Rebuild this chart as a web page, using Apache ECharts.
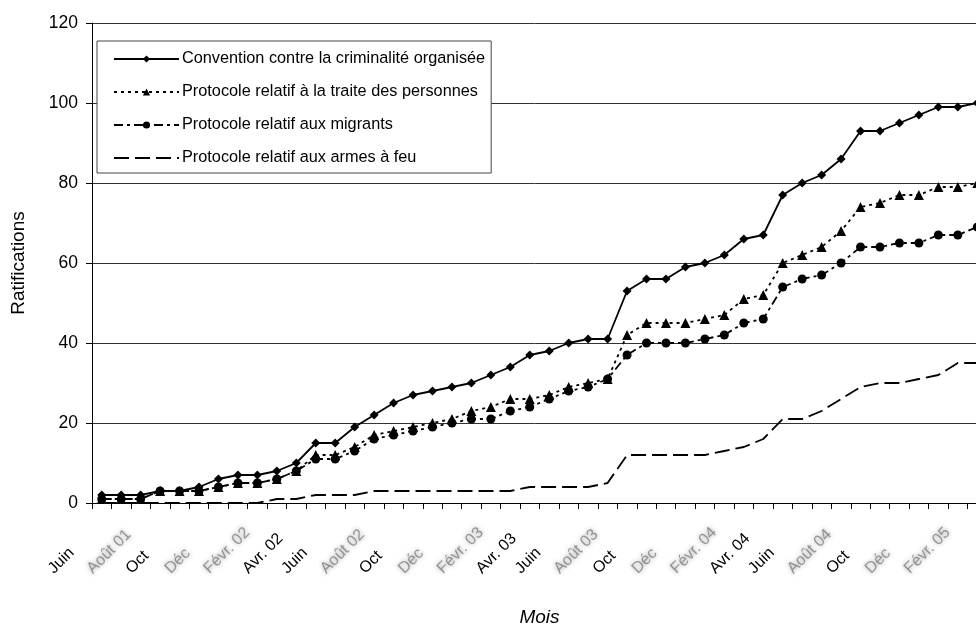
<!DOCTYPE html>
<html>
<head>
<meta charset="utf-8">
<script src="https://cdn.jsdelivr.net/npm/echarts@6/dist/echarts.min.js"></script>
<style>
  html, body { margin: 0; padding: 0; background: #fff; }
  #chart { width: 976px; height: 628px; }
</style>
</head>
<body>
<div id="chart"></div>
<script>
// Monthly categories, June 2001 to March 2005
const months = [
  'Juin', 'Juil.', 'Août 01', 'Sept.', 'Oct', 'Nov.', 'Déc', 'Janv. 02',
  'Févr. 02', 'Mars 02', 'Avr. 02', 'Mai', 'Juin', 'Juil.', 'Août 02', 'Sept.',
  'Oct', 'Nov.', 'Déc', 'Janv. 03', 'Févr. 03', 'Mars 03', 'Avr. 03', 'Mai',
  'Juin', 'Juil.', 'Août 03', 'Sept.', 'Oct', 'Nov.', 'Déc', 'Janv. 04',
  'Févr. 04', 'Mars 04', 'Avr. 04', 'Mai', 'Juin', 'Juil.', 'Août 04', 'Sept.',
  'Oct', 'Nov.', 'Déc', 'Janv. 05', 'Févr. 05', 'Mars 05'
];

// Cumulative ratifications per instrument
const convention = [2, 2, 2, 3, 3, 4, 6, 7, 7, 8, 10, 15, 15, 19, 22, 25, 27, 28, 29, 30, 32, 34, 37, 38, 40, 41, 41, 53, 56, 56, 59, 60, 62, 66, 67, 77, 80, 82, 86, 93, 93, 95, 97, 99, 99, 100];
const traite     = [1, 1, 1, 3, 3, 3, 4, 5, 5, 6, 8, 12, 12, 14, 17, 18, 19, 20, 21, 23, 24, 26, 26, 27, 29, 30, 31, 42, 45, 45, 45, 46, 47, 51, 52, 60, 62, 64, 68, 74, 75, 77, 77, 79, 79, 80];
const migrants   = [1, 1, 1, 3, 3, 3, 4, 5, 5, 6, 8, 11, 11, 13, 16, 17, 18, 19, 20, 21, 21, 23, 24, 26, 28, 29, 31, 37, 40, 40, 40, 41, 42, 45, 46, 54, 56, 57, 60, 64, 64, 65, 65, 67, 67, 69];
const armes      = [0, 0, 0, 0, 0, 0, 0, 0, 0, 1, 1, 2, 2, 2, 3, 3, 3, 3, 3, 3, 3, 3, 4, 4, 4, 4, 5, 12, 12, 12, 12, 12, 13, 14, 16, 21, 21, 23, 26, 29, 30, 30, 31, 32, 35, 35];

const seriesNames = [
  'Convention contre la criminalité organisée',
  'Protocole relatif à la traite des personnes',
  'Protocole relatif aux migrants',
  'Protocole relatif aux armes à feu'
];

const yTicks = { min: 0, max: 120, step: 20 };

const FONT = '"Liberation Sans", Arial, sans-serif';
const softLabel = /^(Août|Déc|Févr)/;

const chart = echarts.init(document.getElementById('chart'), null, { renderer: 'canvas' });

chart.setOption({
  backgroundColor: '#fff',
  animation: false,
  textStyle: { fontFamily: FONT, color: '#000' },
  grid: { left: 92, top: 23, right: -11, bottom: 125, outerBoundsMode: 'none', containLabel: false },
  legend: {
    orient: 'vertical',
    left: 97,
    top: 41,
    padding: [10, 6, 7, 16],
    itemGap: 17,
    itemWidth: 65,
    itemHeight: 9,
    backgroundColor: '#fff',
    borderColor: '#444',
    borderWidth: 1,
    borderRadius: 0,
    textStyle: { fontFamily: FONT, fontSize: 16.3, color: '#000', padding: [0, 0, 0, -2] },
    data: [
      seriesNames[0],
      seriesNames[1],
      seriesNames[2],
      // the firearms line has no marker, so its legend entry shows the dashes only
      { name: seriesNames[3], itemStyle: { color: 'rgba(0,0,0,0)', opacity: 0 } }
    ]
  },
  xAxis: {
    type: 'category',
    data: months,
    boundaryGap: true,
    name: 'Mois',
    nameLocation: 'middle',
    nameGap: 105,
    nameTextStyle: { fontFamily: FONT, fontSize: 19, fontStyle: 'italic', color: '#000' },
    axisLine: { lineStyle: { color: '#000', width: 1 } },
    axisTick: { show: true, interval: 0, length: 6, lineStyle: { color: '#000' } },
    axisLabel: {
      interval: 1,
      rotate: 45,
      align: 'left',
      verticalAlign: 'bottom',
      padding: [0, 0, 64, 0],
      margin: 119,
      fontFamily: FONT,
      fontSize: 16,
      color: '#000',
      formatter: function (v) {
        return softLabel.test(v) ? '{s|' + v + '}' : v;
      },
      rich: {
        s: {
          fontFamily: FONT,
          fontSize: 16,
          color: 'rgba(80,80,80,0.55)',
          textShadowColor: 'rgba(60,60,60,0.9)',
          textShadowBlur: 4
        }
      }
    },
    splitLine: { show: false }
  },
  yAxis: {
    type: 'value',
    min: yTicks.min,
    max: yTicks.max,
    interval: yTicks.step,
    name: 'Ratifications',
    nameLocation: 'middle',
    nameGap: 64,
    nameTextStyle: { fontFamily: FONT, fontSize: 19, color: '#000' },
    axisLine: { show: true, lineStyle: { color: '#000', width: 1 } },
    axisTick: { show: true, length: 6, lineStyle: { color: '#000' } },
    axisLabel: { fontFamily: FONT, fontSize: 17.5, color: '#000', margin: 14 },
    splitLine: { show: true, lineStyle: { color: '#333', width: 1 } }
  },
  series: [
    {
      name: seriesNames[0],
      type: 'line',
      data: convention,
      symbol: 'diamond',
      symbolSize: 9,
      lineStyle: { color: '#000', width: 1.8, type: 'solid' },
      itemStyle: { color: '#000' },
      z: 5
    },
    {
      name: seriesNames[1],
      type: 'line',
      data: traite,
      symbol: 'triangle',
      symbolSize: 10,
      lineStyle: { color: '#000', width: 1.8, type: [3, 4] },
      itemStyle: { color: '#000' },
      z: 4
    },
    {
      name: seriesNames[2],
      type: 'line',
      data: migrants,
      symbol: 'circle',
      symbolSize: 9,
      lineStyle: { color: '#000', width: 1.8, type: [9, 4, 3, 4] },
      itemStyle: { color: '#000' },
      z: 3
    },
    {
      name: seriesNames[3],
      type: 'line',
      data: armes,
      showSymbol: false,
      symbol: 'none',
      lineStyle: { color: '#000', width: 1.8, type: [15, 6] },
      itemStyle: { color: '#000' },
      z: 2
    }
  ]
});
</script>
</body>
</html>
